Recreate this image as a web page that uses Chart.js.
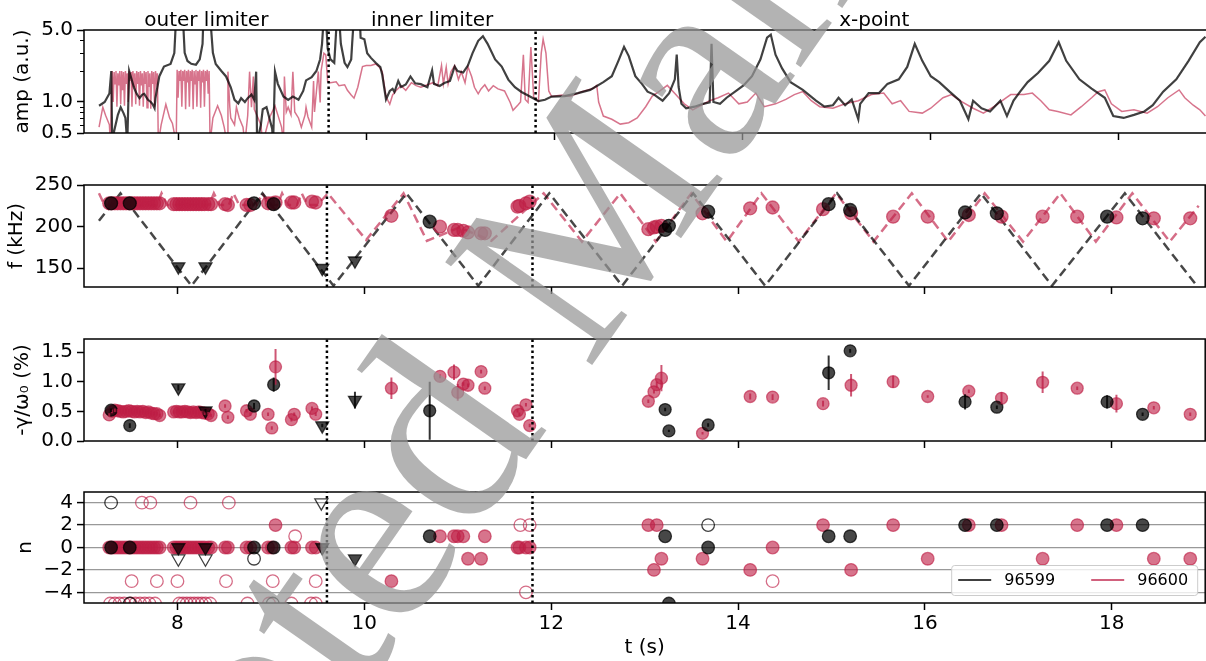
<!DOCTYPE html>
<html>
<head>
<meta charset="utf-8">
<script src="https://cdn.jsdelivr.net/npm/chart.js@4.4.0/dist/chart.umd.min.js"></script>
<style>
html,body{margin:0;padding:0;background:#fff;overflow:hidden}
#page{position:relative;width:1206px;height:661px;overflow:hidden}
#page canvas{position:absolute;left:0}
#wm{position:absolute;left:0;top:0;pointer-events:none}
</style>
</head>
<body>
<div id="page">
<canvas id="c1"></canvas>
<canvas id="c2"></canvas>
<canvas id="c3"></canvas>
<canvas id="c4"></canvas>
<svg id="wm" width="1206" height="661">
  <text font-family="Liberation Serif" font-size="274" fill="rgb(150,150,150)" fill-opacity="0.72"
        transform="translate(-45,1275) rotate(-55)" x="0" y="0">Accepted Manuscript</text>
</svg>
</div>
<script>
// ---------- shared axis stuff ----------
const T_MIN = 7, T_MAX = 19;
const X_TICKS = [8, 10, 12, 14, 16, 18];
const LIMITER_T = [9.6, 11.8];
const REGION_NAMES = ['outer limiter', 'inner limiter', 'x-point'];
const REGION_T = [8.3, 10.7, 15.4];
const SHOTS = ['96599', '96600'];

// ---------- panel 1: amplitude (t, amp) ----------
const AMP_599 = [[7.16,0.92],[7.22,1.0],[7.27,1.21],[7.29,2.0],[7.30,0.4],[7.32,0.52],[7.36,0.75],[7.39,0.89],[7.42,0.78],[7.44,0.70],[7.46,0.4],[7.48,2.0],[7.53,1.39],[7.56,1.2],[7.59,1.09],[7.62,1.18],[7.64,1.2],[7.68,1.05],[7.71,1.0],[7.73,0.95],[7.75,0.87],[7.76,1.1],[7.80,1.77],[7.85,2.21],[7.92,2.34],[7.96,2.98],[7.98,7],[8.05,7],[8.07,3.0],[8.10,2.5],[8.14,2.35],[8.19,2.3],[8.23,2.6],[8.26,3.67],[8.27,7],[8.34,7],[8.37,3.0],[8.40,2.34],[8.46,2.0],[8.51,1.77],[8.56,1.39],[8.60,1.05],[8.64,0.97],[8.67,1.09],[8.71,1.0],[8.74,1.09],[8.78,1.18],[8.81,1.05],[8.83,1.97],[8.84,0.4],[8.88,0.6],[8.90,0.85],[8.94,0.89],[8.97,0.70],[9.00,0.55],[9.01,0.4],[9.03,1.97],[9.06,1.5],[9.12,1.13],[9.17,1.05],[9.22,1.13],[9.28,1.05],[9.33,1.28],[9.36,1.62],[9.42,1.74],[9.47,2.0],[9.51,2.6],[9.53,3.67],[9.55,7],[9.57,7],[9.59,3.3],[9.62,2.59],[9.66,2.4],[9.69,7],[9.71,7],[9.73,3.67],[9.77,2.4],[9.80,2.18],[9.84,2.59],[9.85,3.67],[9.87,7],[9.93,7],[9.94,4.21],[9.98,4.06],[10.01,2.98],[10.05,2.68],[10.10,2.4],[10.15,2.18],[10.17,1.84],[10.19,1.39],[10.21,1.06],[10.25,1.28],[10.28,1.34],[10.30,1.25],[10.34,1.60],[10.37,1.40],[10.42,1.48],[10.47,1.77],[10.52,1.52],[10.58,1.49],[10.65,1.39],[10.70,2.03],[10.72,1.5],[10.78,1.43],[10.83,1.53],[10.89,1.6],[10.94,2.21],[10.97,2.0],[11.03,1.93],[11.08,2.26],[11.13,2.98],[11.19,3.93],[11.24,4.35],[11.29,3.67],[11.37,2.59],[11.44,2.21],[11.51,1.65],[11.58,1.39],[11.65,1.25],[11.74,1.13],[11.83,1.02],[11.90,1.05],[11.97,1.13],[12.11,1.14],[12.25,1.22],[12.38,1.31],[12.52,1.56],[12.61,1.78],[12.68,2.51],[12.74,3.43],[12.79,2.79],[12.86,1.78],[12.93,1.50],[12.99,1.26],[13.06,1.18],[13.15,1.03],[13.22,1.22],[13.28,1.66],[13.30,2.88],[13.32,1.4],[13.35,0.96],[13.40,0.87],[13.49,0.90],[13.58,0.96],[13.65,0.99],[13.67,3.67],[13.69,1.0],[13.76,0.96],[13.83,1.10],[13.92,1.26],[14.01,1.45],[14.10,1.78],[14.19,2.60],[14.26,4.21],[14.30,4.51],[14.35,2.88],[14.42,2.12],[14.51,1.56],[14.64,1.31],[14.78,1.03],[14.87,0.90],[14.96,0.93],[15.02,1.10],[15.09,0.93],[15.16,1.06],[15.23,0.68],[15.25,0.96],[15.34,1.22],[15.45,1.22],[15.54,1.50],[15.66,1.66],[15.75,2.19],[15.83,3.67],[15.91,2.51],[16.00,1.78],[16.09,1.56],[16.20,1.26],[16.31,1.03],[16.40,0.68],[16.45,1.03],[16.54,0.87],[16.63,0.81],[16.74,1.03],[16.81,0.73],[16.88,1.03],[16.95,1.26],[17.03,1.56],[17.14,1.91],[17.26,2.51],[17.36,3.8],[17.44,2.51],[17.58,1.66],[17.71,1.35],[17.85,1.10],[17.94,0.73],[18.05,0.70],[18.16,0.75],[18.27,0.81],[18.36,0.93],[18.47,1.26],[18.61,1.66],[18.74,2.51],[18.86,3.8],[18.92,4.3]];

const AMP_600 = [[7.16,0.57],[7.20,0.89],[7.23,0.74],[7.27,0.60],[7.28,0.4],
[7.30,2.0],[7.31,1.0],[7.32,1.95],[7.33,1.5],[7.34,2.0],[7.35,0.9],[7.36,1.9],[7.37,1.45],[7.38,2.0],[7.39,0.95],[7.40,2.0],[7.41,1.3],[7.42,1.95],[7.43,0.92],[7.44,2.0],[7.45,1.5],[7.46,1.9],[7.47,1.0],[7.48,2.0],[7.49,1.6],[7.50,1.95],[7.51,0.9],[7.52,2.0],[7.53,1.4],[7.54,1.9],[7.55,0.95],[7.56,2.0],[7.57,1.5],[7.58,1.95],[7.59,0.92],[7.60,2.0],[7.61,1.45],[7.62,1.9],[7.63,0.9],[7.64,2.0],[7.65,1.5],[7.66,1.95],[7.67,0.88],[7.68,2.0],[7.69,1.4],[7.70,1.9],[7.71,0.86],[7.72,2.0],[7.73,1.5],[7.74,1.95],[7.75,0.9],[7.76,2.0],[7.77,1.6],[7.78,1.9],[7.79,0.4],
[7.82,0.6],[7.87,0.95],[7.91,0.70],[7.94,0.62],[7.98,0.4],
[7.99,2.05],[8.00,1.1],[8.01,2.0],[8.02,1.6],[8.03,2.05],[8.04,0.9],[8.05,2.0],[8.06,1.6],[8.07,2.05],[8.08,0.85],[8.09,2.0],[8.10,1.55],[8.11,2.05],[8.12,0.9],[8.13,2.0],[8.14,1.6],[8.15,2.05],[8.16,0.85],[8.17,2.0],[8.18,1.5],[8.19,2.05],[8.20,0.9],[8.21,2.0],[8.22,1.6],[8.23,2.05],[8.24,0.88],[8.25,2.0],[8.26,1.55],[8.27,2.05],[8.28,0.9],[8.29,2.0],[8.30,1.6],[8.31,2.05],[8.32,1.2],[8.33,2.0],[8.34,0.4],
[8.37,0.70],[8.42,0.92],[8.46,0.74],[8.49,0.57],[8.52,0.4],[8.53,1.97],[8.55,0.89],[8.56,0.70],[8.60,0.60],[8.62,0.89],[8.65,0.70],[8.69,0.57],[8.71,0.4],[8.74,0.74],[8.76,1.97],[8.78,0.89],[8.80,1.77],[8.81,0.85],[8.85,0.70],[8.88,0.60],[8.90,0.4],[8.97,0.70],[9.03,0.92],[9.06,0.75],[9.10,0.57],[9.12,0.4],[9.13,1.77],[9.15,0.8],[9.17,0.89],[9.20,0.75],[9.22,1.97],[9.24,0.8],[9.28,0.70],[9.31,0.57],[9.35,0.75],[9.36,0.89],[9.38,0.72],[9.42,0.57],[9.44,1.6],[9.45,0.8],[9.49,1.97],[9.51,0.99],[9.52,2.0],[9.55,2.98],[9.57,2.87],[9.59,1.57],
[9.62,1.54],[9.68,1.57],[9.71,1.44],[9.77,1.47],[9.80,1.30],[9.84,1.17],[9.87,1.09],[9.91,1.39],[9.94,1.84],[9.96,2.21],[10.00,2.26],[10.05,2.26],[10.10,2.34],[10.14,2.18],[10.17,1.97],[10.21,1.13],[10.25,0.95],[10.28,1.17],[10.32,1.30],[10.37,1.44],[10.42,1.30],[10.48,1.54],[10.53,1.44],[10.58,1.39],[10.65,1.47],[10.71,1.54],[10.76,1.44],[10.80,2.26],[10.82,1.5],[10.85,2.18],[10.87,1.5],[10.90,1.97],[10.94,2.26],[10.98,1.65],[11.01,1.97],[11.05,1.54],[11.08,2.21],[11.12,1.77],[11.15,1.39],[11.19,1.2],[11.22,1.34],[11.26,1.47],[11.30,1.28],[11.35,1.44],[11.40,1.34],[11.47,1.28],[11.53,0.99],[11.56,0.83],[11.61,0.93],[11.64,1.0],[11.67,2.87],[11.69,1.06],[11.72,0.99],[11.75,3.42],[11.78,1.1],[11.83,1.02],[11.86,2.98],[11.88,4.06],[11.91,2.98],[11.94,1.28],[11.97,1.13],[12.08,1.17],[12.17,1.13],[12.29,1.26],[12.41,1.35],[12.45,1.45],[12.47,1.0],[12.52,0.73],[12.61,0.68],[12.70,0.61],[12.79,0.63],[12.88,0.70],[12.97,0.90],[13.04,1.14],[13.11,1.26],[13.20,1.45],[13.29,1.18],[13.38,0.96],[13.47,0.84],[13.56,0.93],[13.65,1.03],[13.74,1.10],[13.85,1.22],[13.96,0.96],[14.05,1.0],[14.14,1.22],[14.23,0.90],[14.35,0.96],[14.46,1.06],[14.55,1.18],[14.64,1.26],[14.73,1.03],[14.82,0.90],[14.96,0.87],[15.09,0.96],[15.23,1.03],[15.37,1.18],[15.50,1.22],[15.59,0.96],[15.68,1.03],[15.77,0.81],[15.91,0.78],[16.00,0.87],[16.13,1.10],[16.22,1.18],[16.31,1.03],[16.45,0.87],[16.56,0.78],[16.67,0.90],[16.76,1.03],[16.85,1.18],[16.99,1.18],[17.08,1.22],[17.17,1.03],[17.26,0.84],[17.35,0.81],[17.49,0.75],[17.60,0.90],[17.71,1.10],[17.78,1.26],[17.85,1.31],[17.92,0.96],[18.03,0.81],[18.16,0.84],[18.30,0.78],[18.41,0.90],[18.52,1.10],[18.64,1.31],[18.70,1.10],[18.79,0.93],[18.86,0.84],[18.92,0.73]];

const AMP_TICKS = [0.5, 1, 5];
const AMP_MINOR = [0.6, 0.7, 0.8, 0.9, 2, 3, 4];

// ---------- panel 2: probe sweep frequency (t, kHz) ----------
const SWEEP_599 = [[7.16,207],[7.39,240],[8.15,129],[8.91,240],[9.67,129],[10.45,240],[11.22,129],[11.98,240],[12.76,129],[13.52,240],[14.29,129],[15.06,240],[15.83,129],[16.60,240],[17.36,129],[18.14,240],[18.91,129]];
const SWEEP_600 = [[7.16,240],[7.22,226],[7.78,226],[7.83,240],[7.89,226],[8.34,226],[8.39,240],[8.45,226],[8.55,226],[8.60,240],[8.66,226],[8.85,226],[8.91,240],[8.97,226],[9.07,226],[9.12,240],[9.18,226],[9.28,226],[9.33,240],[9.39,226],[9.50,226],[9.61,240],[10.02,184],[10.42,240],[10.67,183],[11.02,199],[11.36,183],[11.92,240],[12.33,182],[12.74,240],[13.12,182],[13.50,240],[13.88,182],[14.25,240],[14.65,182],[15.05,240],[15.45,182],[15.86,240],[16.25,182],[16.64,240],[17.05,182],[17.45,240],[17.83,182],[18.22,240],[18.62,182],[18.93,225]];
const F_TICKS = [150, 200, 250];

// ---------- detected modes, 96599 (circles) ----------
const DET599_T   = [7.29, 7.49, 8.82, 9.03, 10.70, 13.22, 13.26, 13.68, 14.97, 15.20, 16.43, 16.77, 17.95, 18.33];
const DET599_F   = [228, 228, 228, 227, 206, 196, 201, 218, 227, 220, 217, 216, 212, 210];
const DET599_G   = [0.52, 0.26, 0.59, 0.95, 0.51, 0.53, 0.17, 0.27, 1.15, 1.52, 0.66, 0.57, 0.66, 0.45];
const DET599_ERR = [0.03, 0.04, 0.05, 0.12, 0.49, 0.03, 0.02, 0.03, 0.29, 0.03, 0.13, 0.03, 0.11, 0.03];
const DET599_N   = [0, 0, 0, 0, 1, 1, -5, 0, 1, 1, 2, 2, 2, 2];

// ---------- detected modes, 96599 (triangles) ----------
const TRI599_T   = [8.01, 8.30, 9.55, 9.90];
const TRI599_F   = [152, 152, 150, 159];
const TRI599_G   = [0.90, 0.51, 0.26, 0.69];
const TRI599_ERR = [0.05, 0.03, 0.03, 0.14];
const TRI599_N   = [0, 0, 0, -1];

// ---------- detected modes, 96600 (circles) ----------
const DET600_T = [7.27,7.30,7.33,7.36,7.39,7.42,7.45,7.48,7.51,7.54,7.57,7.60,7.63,7.66,7.69,7.72,7.75,7.78,7.81,
  7.96,7.99,8.02,8.05,8.08,8.11,8.14,8.17,8.20,8.23,8.26,8.29,8.33,8.36,
  8.51,8.54,8.74,8.78,8.97,9.01,9.05,9.22,9.25,9.44,9.48,
  10.29,10.81,10.96,11.00,11.06,11.11,11.25,11.29,11.64,11.66,11.73,11.77,
  13.04,13.10,13.13,13.18,13.62,14.13,14.37,14.91,15.21,15.66,16.03,16.47,16.82,17.26,17.63,18.05,18.45,18.84];
const DET600_F = [228,228,228,228,228,228,228,228,228,228,228,228,228,228,228,228,228,228,228,
  227,227,227,227,227,227,227,227,227,227,227,227,227,227,
  227,226,226,226,228,228,229,229,229,230,229,
  213,200,196,196,195,193,192,192,224,225,228,230,
  197,199,200,201,216,222,223,221,216,212,212,214,212,212,212,211,210,210];
const DET600_G = [0.44,0.50,0.52,0.51,0.50,0.49,0.50,0.51,0.50,0.49,0.50,0.49,0.50,0.48,0.49,0.47,0.46,0.46,0.43,
  0.49,0.50,0.49,0.49,0.50,0.49,0.48,0.49,0.48,0.49,0.48,0.47,0.46,0.43,
  0.59,0.40,0.51,0.45,0.45,0.22,1.25,0.36,0.45,0.55,0.45,
  0.89,1.09,1.16,0.82,0.96,0.94,1.17,0.89,0.51,0.45,0.61,0.26,
  0.67,0.83,0.95,1.06,0.13,0.75,0.74,0.63,0.94,1.00,0.75,0.84,0.72,0.99,0.89,0.63,0.56,0.45];
const DET600_ERR = [0.03,0.03,0.03,0.03,0.03,0.03,0.03,0.03,0.03,0.03,0.03,0.03,0.03,0.03,0.03,0.03,0.03,0.03,0.03,
  0.03,0.03,0.03,0.03,0.03,0.03,0.03,0.03,0.03,0.03,0.03,0.03,0.03,0.03,
  0.03,0.03,0.03,0.03,0.03,0.03,0.30,0.03,0.03,0.03,0.03,
  0.18,0.03,0.13,0.14,0.03,0.03,0.03,0.03,0.03,0.03,0.03,0.03,
  0.03,0.03,0.05,0.22,0.02,0.05,0.05,0.05,0.19,0.10,0.02,0.03,0.10,0.18,0.03,0.15,0.03,0.03];
const DET600_N = [0,0,0,0,0,0,0,0,0,0,0,0,0,0,0,0,0,0,0,
  0,0,0,0,0,0,0,0,0,0,0,0,0,0,
  0,0,0,0,0,0,2,0,0,0,0,
  -3,1,1,1,1,-1,-1,1,0,0,0,0,
  2,-2,2,-1,-1,-2,0,2,-2,2,-1,2,2,-1,2,2,-1,-1];

// ---------- secondary mode-number fits (open markers) ----------
const OPEN599_T = [7.29, 7.49, 8.82, 9.02, 13.68];
const OPEN599_N = [4, -5, -1, -5, 2];
const OPENTRI599_T = [8.01, 8.30, 9.54];
const OPENTRI599_N = [-1, -1, 4];
const OPEN600_T = [7.62,7.71,8.14,8.55, 9.26, 11.67,11.77, 7.51,7.78,8.00,8.52,9.02,9.48,14.37, 11.73,
  7.28,7.33,7.38,7.43,7.50,7.55,7.60,7.65,7.70,7.76,8.02,8.06,8.10,8.14,8.18,8.22,8.26,8.30,8.35,8.75,8.98,9.22,9.43,9.48];
const OPEN600_N = [4,4,4,4, 1, 2,2, -3,-3,-3,-3,-3,-3,-3, -4,
  -5,-5,-5,-5,-5,-5,-5,-5,-5,-5,-5,-5,-5,-5,-5,-5,-5,-5,-5,-5,-5,-5,-5,-5];

const G_TICKS = [0, 0.5, 1, 1.5];
const N_TICKS = [-4, -2, 0, 2, 4];

// ---------- styling ----------
const FONT = "'DejaVu Sans', sans-serif";
const COL_599 = a => `rgba(0,0,0,${a})`;
const COL_600 = a => `rgba(190,30,70,${a})`;
Chart.defaults.font.family = FONT;
Chart.defaults.font.size = 20;
Chart.defaults.color = '#000';

const pts = (ts, vs) => ts.map((t, i) => ({x: t, y: vs[i]}));
const pairs = arr => arr.map(p => ({x: p[0], y: p[1]}));
const errBars = (ts, gs, es) => {
  const d = [];
  ts.forEach((t, i) => { d.push({x: t, y: Math.max(gs[i] - es[i], 0)}, {x: t, y: gs[i] + es[i]}, {x: t, y: null}); });
  return d;
};

function limiterLines(lo, hi) {
  return LIMITER_T.map(t => ({
    data: [{x: t, y: lo}, {x: t, y: hi}], showLine: true, pointRadius: 0,
    borderColor: '#000', borderWidth: 2.5, borderDash: [2.5, 3], order: 0
  }));
}
function lineSet(data, color, width, order, dash) {
  return {data, showLine: true, pointRadius: 0, borderColor: color, borderWidth: width,
    borderDash: dash || [], order, tension: 0};
}
function markerSet(data, style, fill, edge, r, order, rot) {
  return {data, showLine: false, pointStyle: style, pointRadius: r, pointRotation: rot || 0,
    backgroundColor: fill, borderColor: edge, borderWidth: 1.3, order, clip: 0};
}

function xScale(labels) {
  return {
    type: 'linear', min: T_MIN, max: T_MAX,
    afterBuildTicks: s => { s.ticks = X_TICKS.map(v => ({value: v})); },
    afterFit: s => { s.height = labels ? 58 : 8; },
    grid: {drawOnChartArea: false, drawTicks: true, tickLength: 7, tickWidth: 1.5, tickColor: '#000'},
    border: {display: false},
    ticks: {display: labels, padding: 2, maxRotation: 0, autoSkip: false},
    title: {display: labels, text: 't (s)', padding: {top: 0, bottom: 1}}
  };
}
function yScale(opts) {
  return Object.assign({
    afterFit: s => { s.width = 84; },
    grid: {drawOnChartArea: false, drawTicks: true, tickLength: 7, tickWidth: 1.5, tickColor: '#000'},
    border: {display: false}
  }, opts);
}

const framePlugin = {
  id: 'frame',
  afterDatasetsDraw(chart) {
    const {ctx, chartArea: a} = chart;
    ctx.save();
    ctx.strokeStyle = '#000'; ctx.lineWidth = 1.5;
    ctx.strokeRect(a.left, a.top, a.right - a.left, a.bottom - a.top);
    ctx.restore();
  }
};

const regionPlugin = {
  id: 'regions',
  afterDraw(chart) {
    const {ctx, chartArea: a, scales: {x, y}} = chart;
    ctx.save();
    ctx.font = '20px ' + FONT; ctx.fillStyle = '#000';
    ctx.textAlign = 'center'; ctx.textBaseline = 'alphabetic';
    REGION_NAMES.forEach((s, i) => ctx.fillText(s, x.getPixelForValue(REGION_T[i]), a.top - 4));
    ctx.strokeStyle = '#000'; ctx.lineWidth = 1;
    ctx.beginPath();
    AMP_MINOR.forEach(v => { const py = Math.round(y.getPixelForValue(v)) + 0.5; ctx.moveTo(a.left, py); ctx.lineTo(a.left - 4, py); });
    ctx.stroke();
    ctx.restore();
  }
};

const legendPlugin = {
  id: 'shotLegend',
  afterDraw(chart) {
    const {ctx, chartArea: a} = chart;
    const w = 246, h = 30;
    const left = a.right - 8 - w, top = a.bottom - 8 - h, mid = top + h / 2;
    ctx.save();
    ctx.beginPath();
    ctx.roundRect(left + 0.5, top + 0.5, w, h, 3);
    ctx.fillStyle = 'rgba(255,255,255,0.8)'; ctx.fill();
    ctx.strokeStyle = '#cccccc'; ctx.lineWidth = 1; ctx.stroke();
    const cols = [COL_599(0.75), COL_600(0.7)];
    const offs = [7, 140];
    ctx.font = '16px ' + FONT; ctx.fillStyle = '#000'; ctx.textBaseline = 'middle'; ctx.textAlign = 'left';
    SHOTS.forEach((s, i) => {
      ctx.beginPath(); ctx.strokeStyle = cols[i]; ctx.lineWidth = 2;
      ctx.moveTo(left + offs[i], mid); ctx.lineTo(left + offs[i] + 33, mid); ctx.stroke();
      ctx.fillText(s, left + offs[i] + 46, mid + 1);
    });
    ctx.restore();
  }
};

function makeChart(id, top, height, padTop, y, datasets, labels, plugins) {
  const cv = document.getElementById(id);
  cv.width = 1214; cv.height = height;
  cv.style.top = top + 'px';
  return new Chart(cv, {
    type: 'scatter',
    data: {datasets},
    options: {
      responsive: false, animation: false, devicePixelRatio: 1,
      layout: {padding: {top: padTop, right: 1, left: 0, bottom: 0}},
      plugins: {legend: {display: false}, tooltip: {enabled: false}},
      scales: {x: xScale(labels), y}
    },
    plugins: [framePlugin].concat(plugins || [])
  });
}

// ---------- panel 1 ----------
makeChart('c1', 0, 149, 30,
  yScale({type: 'logarithmic', min: 0.5, max: 5,
    afterBuildTicks: s => { s.ticks = AMP_TICKS.map(v => ({value: v})); },
    ticks: {padding: 4, callback: v => Number(v).toFixed(1)},
    title: {display: true, text: 'amp (a.u.)', padding: {top: 11, bottom: 0}}}),
  [
    ...limiterLines(0.5, 5),
    lineSet(pairs(AMP_599), COL_599(0.75), 2.2, 1),
    lineSet(pairs(AMP_600), COL_600(0.62), 1.5, 2)
  ], false, [regionPlugin]);

// ---------- panel 2 ----------
makeChart('c2', 165, 138, 20,
  yScale({type: 'linear', min: 127.5, max: 250,
    afterBuildTicks: s => { s.ticks = F_TICKS.map(v => ({value: v})); },
    ticks: {padding: 4},
    title: {display: true, text: 'f (kHz)', padding: {top: 5, bottom: 0}}}),
  [
    ...limiterLines(127.5, 250),
    markerSet(pts(DET599_T, DET599_F), 'circle', COL_599(0.72), COL_599(0.72), 6.5, 1),
    markerSet(pts(TRI599_T, TRI599_F), 'triangle', COL_599(0.72), COL_599(0.72), 7.5, 2, 180),
    markerSet(pts(DET600_T, DET600_F), 'circle', COL_600(0.62), COL_600(0.62), 6.5, 3),
    lineSet(pairs(SWEEP_599), COL_599(0.72), 2.5, 4, [9, 5]),
    lineSet(pairs(SWEEP_600), COL_600(0.65), 2.5, 5, [9, 5])
  ], false);

// ---------- panel 3 ----------
makeChart('c3', 319, 138, 20,
  yScale({type: 'linear', min: 0, max: 1.72,
    afterBuildTicks: s => { s.ticks = G_TICKS.map(v => ({value: v})); },
    ticks: {padding: 4, callback: v => Number(v).toFixed(1)},
    title: {display: true, text: '-γ/ω₀ (%)', padding: {top: 11, bottom: 0}}}),
  [
    ...limiterLines(0, 1.72),
    lineSet(errBars(DET599_T, DET599_G, DET599_ERR), COL_599(0.8), 2, 1),
    lineSet(errBars(TRI599_T, TRI599_G, TRI599_ERR), COL_599(0.8), 2, 1),
    lineSet(errBars(DET600_T, DET600_G, DET600_ERR), COL_600(0.75), 2, 2),
    markerSet(pts(DET599_T, DET599_G), 'circle', COL_599(0.72), COL_599(0.72), 6, 3),
    markerSet(pts(TRI599_T, TRI599_G), 'triangle', COL_599(0.72), COL_599(0.72), 7.5, 4, 180),
    markerSet(pts(DET600_T, DET600_G), 'circle', COL_600(0.62), COL_600(0.62), 6, 5)
  ], false);

// ---------- panel 4 ----------
makeChart('c4', 472, 189, 20,
  yScale({type: 'linear', min: -4.95, max: 4.95,
    afterBuildTicks: s => { s.ticks = N_TICKS.map(v => ({value: v})); },
    grid: {drawOnChartArea: true, color: 'rgba(110,110,110,0.7)', lineWidth: 1.2,
      drawTicks: true, tickLength: 7, tickWidth: 1.5, tickColor: '#000'},
    ticks: {padding: 4, callback: v => v < 0 ? '\u2212' + (-v) : String(v)},
    title: {display: true, text: 'n', padding: {top: 14, bottom: 0}}}),
  [
    ...limiterLines(-4.95, 4.95),
    markerSet(pts(DET599_T, DET599_N), 'circle', COL_599(0.72), COL_599(0.72), 6.3, 1),
    markerSet(pts(TRI599_T, TRI599_N), 'triangle', COL_599(0.72), COL_599(0.72), 7.5, 2, 180),
    markerSet(pts(OPEN599_T, OPEN599_N), 'circle', 'rgba(0,0,0,0)', COL_599(0.75), 6.3, 3),
    markerSet(pts(OPENTRI599_T, OPENTRI599_N), 'triangle', 'rgba(0,0,0,0)', COL_599(0.75), 7.5, 4, 180),
    markerSet(pts(DET600_T, DET600_N), 'circle', COL_600(0.62), COL_600(0.62), 6.3, 5),
    markerSet(pts(OPEN600_T, OPEN600_N), 'circle', 'rgba(0,0,0,0)', COL_600(0.65), 6.3, 6)
  ], true, [legendPlugin]);
</script>
</body>
</html>
